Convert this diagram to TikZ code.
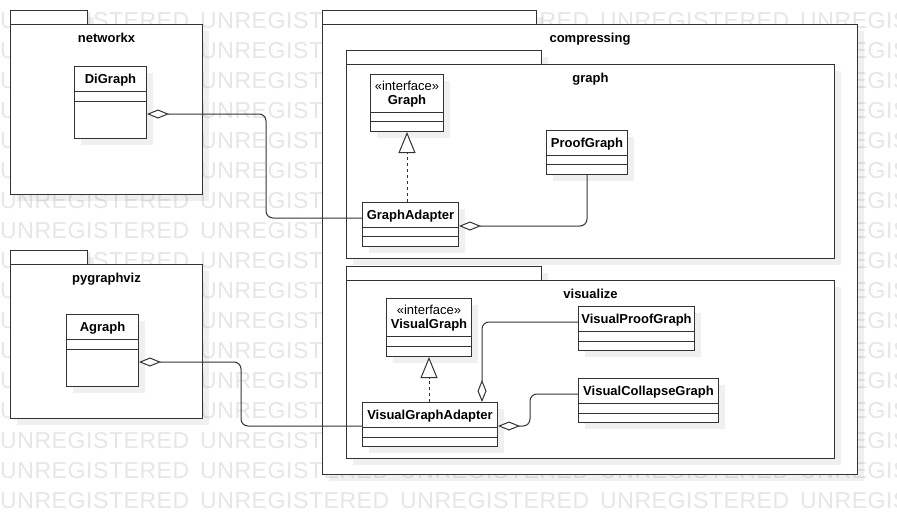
\documentclass[tikz,border=0pt]{standalone}
\usepackage{fontspec}
\setmainfont{Liberation Sans}
\newfontfamily\wmfont[LetterSpace=2.5]{Liberation Sans}
\usetikzlibrary{arrows.meta,calc,shadows}
\definecolor{linec}{HTML}{333333}
\definecolor{wmark}{HTML}{E6E6E6}

\begin{document}
\begin{tikzpicture}[
    x=1pt,y=-1pt,
    box/.style={draw=linec, fill=white, line width=1pt, inner sep=0pt, anchor=north west,
        general shadow={fill=black, opacity=.06, shadow xshift=6pt, shadow yshift=-6pt}},
    title/.style={font=\fontsize{13}{15}\selectfont\bfseries, inner sep=0pt, anchor=base},
    stereo/.style={font=\fontsize{13}{15}\selectfont, inner sep=0pt, anchor=base},
    wm/.style={font=\wmfont\fontsize{23}{23}\selectfont, text=wmark, inner sep=0pt, anchor=base west},
    sep/.style={draw=linec, line width=1pt},
    agg/.style={draw=linec, line width=1pt, rounded corners=7pt,
        -{Diamond[open, fill=white, length=22pt, width=9pt]}},
    real/.style={draw=linec, line width=1pt, dash pattern=on 3pt off 3pt,
        -{Triangle[open, fill=white, length=21pt, width=17pt]}}
]
    \useasboundingbox (0,0) rectangle (897,514);
    \clip (0,0) rectangle (897,514);

    % watermark rows
    \foreach \r in {0,...,16}
        \foreach \c in {0,...,4}
            \node[wm] (wm-\r-\c) at (200*\c, 28+30*\r) {UNREGISTERED};

    % networkx
    \node[box, minimum width=77pt, minimum height=14pt] (networkx-tab) at (10,10) {};
    \node[box, minimum width=192pt, minimum height=170pt] (networkx) at (10,24) {};
    \node[title] (networkx-t) at ($(networkx.north)+(0,18.5)$) {networkx};

    \node[box, minimum width=72pt, minimum height=72pt] (digraph) at (74,66) {};
    \node[title] (digraph-t) at ($(digraph.north)+(0,17)$) {DiGraph};
    \draw[sep] ($(digraph.north west)+(0,25)$) -- ($(digraph.north east)+(0,25)$)
        ($(digraph.north west)+(0,35)$) -- ($(digraph.north east)+(0,35)$);

    % pygraphviz
    \node[box, minimum width=77pt, minimum height=14pt] (pygraphviz-tab) at (10,250) {};
    \node[box, minimum width=192pt, minimum height=154pt] (pygraphviz) at (10,264) {};
    \node[title] (pygraphviz-t) at ($(pygraphviz.north)+(0,18.5)$) {pygraphviz};

    \node[box, minimum width=72pt, minimum height=72pt] (agraph) at (66,314) {};
    \node[title] (agraph-t) at ($(agraph.north)+(0,17)$) {Agraph};
    \draw[sep] ($(agraph.north west)+(0,25)$) -- ($(agraph.north east)+(0,25)$)
        ($(agraph.north west)+(0,35)$) -- ($(agraph.north east)+(0,35)$);

    % compressing
    \node[box, minimum width=214pt, minimum height=14pt] (compressing-tab) at (322,10) {};
    \node[box, minimum width=535pt, minimum height=450pt] (compressing) at (322,24) {};
    \node[title] (compressing-t) at ($(compressing.north)+(0,18)$) {compressing};

    % compressing.graph
    \node[box, minimum width=195pt, minimum height=14pt] (graph-tab) at (346,50) {};
    \node[box, minimum width=488pt, minimum height=194pt] (graphpkg) at (346,64) {};
    \node[title] (graphpkg-t) at ($(graphpkg.north)+(0,18.5)$) {graph};

    \node[box, minimum width=73pt, minimum height=57pt] (graph) at (370,74) {};
    \node[stereo] (graph-s) at ($(graph.north)+(0,16)$) {«interface»};
    \node[title] (graph-t) at ($(graph.north)+(0,30)$) {Graph};
    \draw[sep] ($(graph.north west)+(0,38)$) -- ($(graph.north east)+(0,38)$)
        ($(graph.north west)+(0,47)$) -- ($(graph.north east)+(0,47)$);

    \node[box, minimum width=81pt, minimum height=44pt] (proofgraph) at (546,130) {};
    \node[title] (proofgraph-t) at ($(proofgraph.north)+(0,17)$) {ProofGraph};
    \draw[sep] ($(proofgraph.north west)+(0,25)$) -- ($(proofgraph.north east)+(0,25)$)
        ($(proofgraph.north west)+(0,34)$) -- ($(proofgraph.north east)+(0,34)$);

    \node[box, minimum width=96pt, minimum height=44pt] (graphadapter) at (362,202) {};
    \node[title] (graphadapter-t) at ($(graphadapter.north)+(0,17)$) {GraphAdapter};
    \draw[sep] ($(graphadapter.north west)+(0,25)$) -- ($(graphadapter.north east)+(0,25)$)
        ($(graphadapter.north west)+(0,34)$) -- ($(graphadapter.north east)+(0,34)$);

    % compressing.visualize
    \node[box, minimum width=195pt, minimum height=14pt] (visualize-tab) at (346,266) {};
    \node[box, minimum width=488pt, minimum height=178pt] (visualize) at (346,280) {};
    \node[title] (visualize-t) at ($(visualize.north)+(0,18.5)$) {visualize};

    \node[box, minimum width=85pt, minimum height=58pt] (visualgraph) at (386,298) {};
    \node[stereo] (visualgraph-s) at ($(visualgraph.north)+(0,16)$) {«interface»};
    \node[title] (visualgraph-t) at ($(visualgraph.north)+(0,30.5)$) {VisualGraph};
    \draw[sep] ($(visualgraph.north west)+(0,38)$) -- ($(visualgraph.north east)+(0,38)$)
        ($(visualgraph.north west)+(0,48)$) -- ($(visualgraph.north east)+(0,48)$);

    \node[box, minimum width=116pt, minimum height=44pt] (visualproofgraph) at (578,306) {};
    \node[title] (visualproofgraph-t) at ($(visualproofgraph.north)+(0,17)$) {VisualProofGraph};
    \draw[sep] ($(visualproofgraph.north west)+(0,25)$) -- ($(visualproofgraph.north east)+(0,25)$)
        ($(visualproofgraph.north west)+(0,35)$) -- ($(visualproofgraph.north east)+(0,35)$);

    \node[box, minimum width=140pt, minimum height=44pt] (visualcollapsegraph) at (578,378) {};
    \node[title] (visualcollapsegraph-t) at ($(visualcollapsegraph.north)+(0,17)$) {VisualCollapseGraph};
    \draw[sep] ($(visualcollapsegraph.north west)+(0,25)$) -- ($(visualcollapsegraph.north east)+(0,25)$)
        ($(visualcollapsegraph.north west)+(0,35)$) -- ($(visualcollapsegraph.north east)+(0,35)$);

    \node[box, minimum width=135pt, minimum height=44pt] (visualgraphadapter) at (362,402) {};
    \node[title] (visualgraphadapter-t) at ($(visualgraphadapter.north)+(0,17)$) {VisualGraphAdapter};
    \draw[sep] ($(visualgraphadapter.north west)+(0,25)$) -- ($(visualgraphadapter.north east)+(0,25)$)
        ($(visualgraphadapter.north west)+(0,35)$) -- ($(visualgraphadapter.north east)+(0,35)$);

    % realizations
    \draw[real] (graph.south |- graphadapter.north) -- (graph.south);
    \draw[real] (visualgraph.south |- visualgraphadapter.north) -- (visualgraph.south);

    % aggregations
    \draw[agg] ($(graphadapter.north west)+(0,16)$) -- ++(-96,0)
        |- ($(digraph.north east)+(0,48)$);
    \draw[agg] (proofgraph.south) |- ($(graphadapter.north east)+(0,24)$);
    \draw[agg] ($(visualgraphadapter.north west)+(0,24)$) -- ++(-121,0)
        |- ($(agraph.north east)+(0,48)$);
    \draw[agg] ($(visualproofgraph.north west)+(0,16)$) -| ($(visualgraphadapter.north west)+(120,0)$);
    \draw[agg] ($(visualcollapsegraph.north west)+(0,16)$) -- ++(-48,0)
        |- ($(visualgraphadapter.north east)+(0,24)$);
\end{tikzpicture}
\end{document}
